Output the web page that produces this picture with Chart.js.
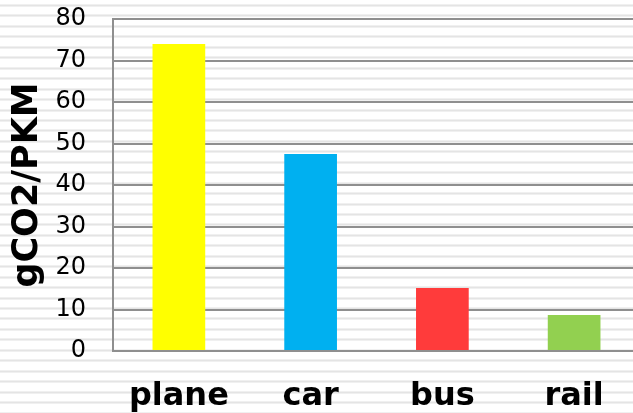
<!DOCTYPE html>
<html>
<head>
<meta charset="utf-8">
<script src="https://cdn.jsdelivr.net/npm/chart.js@4"></script>
<style>
  html, body { margin: 0; padding: 0; background: #fff; overflow: hidden; }
  #wrap { width: 633px; height: 413px; overflow: hidden; }
</style>
</head>
<body>
<div id="wrap"><canvas id="c" width="640" height="413"></canvas></div>
<script>
// Emissions per passenger-kilometre by mode of transport
const categories = ['plane', 'car', 'bus', 'rail'];
const emissions = [74, 47.5, 15.2, 8.7];
const barColors = ['#ffff00', '#00b0f0', '#ff3b3b', '#92d050'];
const yTicks = [0, 10, 20, 30, 40, 50, 60, 70, 80];

// Ruled-paper background: thin light stripes over the whole canvas
const ruledBackground = {
  id: 'ruledBackground',
  beforeDraw(chart) {
    const ctx = chart.ctx;
    const w = chart.width, h = chart.height;
    ctx.save();
    ctx.fillStyle = '#ffffff';
    ctx.fillRect(0, 0, w, h);
    for (let y = 5; y < h; y += 10.45) {
      ctx.fillStyle = '#f0f0f0';
      ctx.fillRect(0, Math.round(y) - 1, w, 3);
      ctx.fillStyle = '#e4e4e4';
      ctx.fillRect(0, Math.round(y), w, 1);
    }
    ctx.restore();
  }
};

new Chart(document.getElementById('c'), {
  type: 'bar',
  data: {
    labels: categories,
    datasets: [{
      data: emissions,
      backgroundColor: barColors,
      borderWidth: 0,
      barPercentage: 0.4,
      categoryPercentage: 1.0
    }]
  },
  options: {
    responsive: false,
    animation: false,
    devicePixelRatio: 1,
    layout: { padding: { top: 19, left: 0, right: 0, bottom: 0 } },
    plugins: {
      legend: { display: false },
      tooltip: { enabled: false }
    },
    scales: {
      x: {
        grid: { display: false, drawTicks: false },
        border: { display: true, color: '#8f8f8f', width: 2 },
        ticks: {
          color: '#000',
          padding: 26,
          font: { family: 'DejaVu Sans', size: 32, weight: 'bold' }
        },
        afterFit(scale) {
          scale.height = 62;
          scale.paddingLeft = 0;
          scale.paddingRight = 0;
        }
      },
      y: {
        min: 0,
        max: 80,
        afterBuildTicks(scale) { scale.ticks = yTicks.map(v => ({ value: v })); },
        grid: { color: '#8f8f8f', lineWidth: 2, drawTicks: false, tickLength: 0 },
        border: { display: true, color: '#8f8f8f', width: 2 },
        ticks: {
          color: '#000',
          padding: 27,
          font: { family: 'DejaVu Sans', size: 24 }
        },
        title: {
          display: true,
          text: 'gCO2/PKM',
          color: '#000',
          padding: { top: 7, bottom: 0 },
          font: { family: 'DejaVu Sans', size: 35, weight: 'bold' }
        },
        afterFit(scale) {
          scale.width = 113;
          scale.paddingTop = 0;
          scale.paddingBottom = 0;
        }
      }
    }
  },
  plugins: [ruledBackground]
});
</script>
</body>
</html>
